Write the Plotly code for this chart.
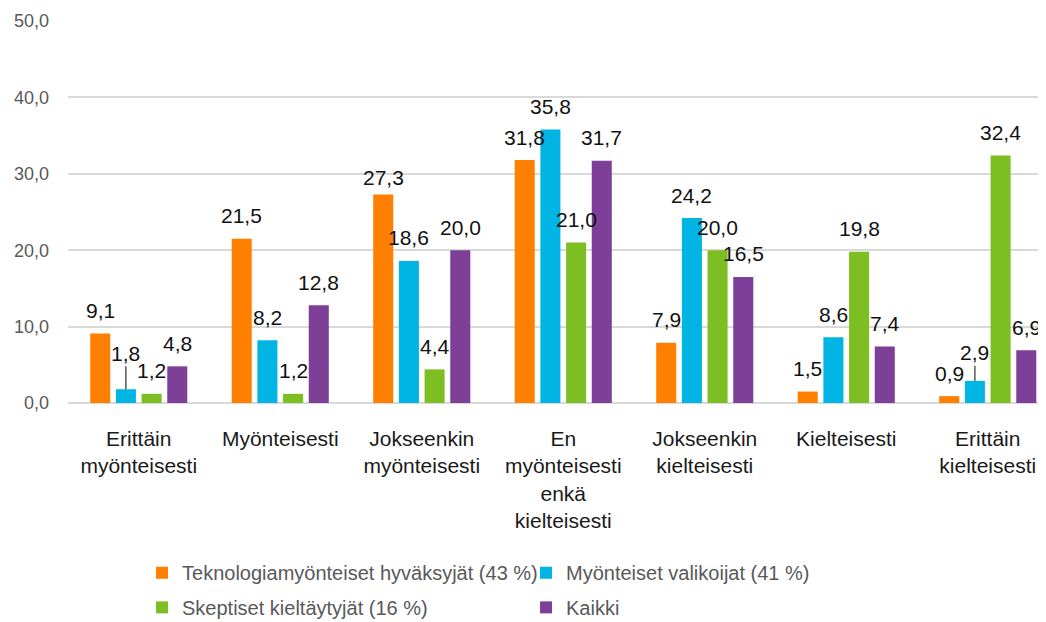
import plotly.graph_objects as go

categories = [
    "Erittäin<br>myönteisesti",
    "Myönteisesti",
    "Jokseenkin<br>myönteisesti",
    "En<br>myönteisesti<br>enkä<br>kielteisesti",
    "Jokseenkin<br>kielteisesti",
    "Kielteisesti",
    "Erittäin<br>kielteisesti",
]
series_names = [
    "Teknologiamyönteiset hyväksyjät (43 %)",
    "Myönteiset valikoijat (41 %)",
    "Skeptiset kieltäytyjät (16 %)",
    "Kaikki",
]
tekno = [9.1, 21.5, 27.3, 31.8, 7.9, 1.5, 0.9]
valikoijat = [1.8, 8.2, 18.6, 35.8, 24.2, 8.6, 2.9]
skeptiset = [1.2, 1.2, 4.4, 21.0, 20.0, 19.8, 32.4]
kaikki = [4.8, 12.8, 20.0, 31.7, 16.5, 7.4, 6.9]
y_ticks = [0, 10, 20, 30, 40, 50]

series_values = [tekno, valikoijat, skeptiset, kaikki]
colors = ["#FF8000", "#00B4E4", "#7DBE22", "#7E3F98"]
legend_rows = ["legend", "legend", "legend2", "legend2"]

BARGAP = 0.274
BARGROUPGAP = 0.22
FONT = "Liberation Sans"

# label style tweaks: (series, category) -> leader line length in px
leaders = {(1, 0): 36, (1, 6): 28}
lift_override = {(0, 2): 17}
DEFAULT_LIFT = 23

x_idx = list(range(len(categories)))

fig = go.Figure()
for s, (name, vals, col) in enumerate(zip(series_names, series_values, colors)):
    fig.add_trace(go.Bar(
        x=x_idx, y=vals, name=name, marker=dict(color=col, line=dict(width=0)),
        hoverinfo="y", legend=legend_rows[s],
    ))

n = len(series_values)
slot = (1 - BARGAP) / n
annotations = []
for s, vals in enumerate(series_values):
    off = -(1 - BARGAP) / 2 + slot * (s + 0.5)
    for i, v in enumerate(vals):
        txt = f"{v:.1f}".replace(".", ",")
        if (s, i) in leaders:
            annotations.append(dict(
                x=i + off, y=v, xref="x", yref="y", text=txt,
                showarrow=True, ax=0, ay=-leaders[(s, i)], arrowhead=0,
                arrowwidth=1, arrowcolor="#000000", standoff=0,
                font=dict(family=FONT, size=21, color="#111111"),
            ))
        else:
            annotations.append(dict(
                x=i + off, y=v, xref="x", yref="y", text=txt,
                showarrow=False, yanchor="middle",
                yshift=lift_override.get((s, i), DEFAULT_LIFT),
                font=dict(family=FONT, size=21, color="#111111"),
            ))

# page adds an 8px body margin around the figure
W, H = 1038, 614
ml, mt, mb = 60, 13, 219
cat_px = 141.5
right_units = (W - ml) / cat_px - 0.5

legend_common = dict(
    orientation="h", x=0.0757, xanchor="left", yanchor="top",
    entrywidth=339, entrywidthmode="pixels",
    font=dict(family=FONT, size=20, color="#595959"),
    traceorder="normal", itemclick=False, bgcolor="rgba(0,0,0,0)",
)

fig.update_layout(
    width=W, height=H,
    margin=dict(l=ml, r=0, t=mt, b=mb, pad=0, autoexpand=False),
    paper_bgcolor="white", plot_bgcolor="white",
    barmode="group", bargap=BARGAP, bargroupgap=BARGROUPGAP,
    separators=", ",
    font=dict(family=FONT, color="#111111"),
    annotations=annotations,
    showlegend=True,
    legend=dict(legend_common, y=-0.393),
    legend2=dict(legend_common, y=-0.484),
    xaxis=dict(
        range=[-0.5, right_units], tickmode="array", tickvals=x_idx,
        ticktext=categories, showgrid=False, zeroline=False, showline=False,
        ticks="", tickfont=dict(family=FONT, size=21, color="#1a1a1a"),
        ticklabelstandoff=21, fixedrange=True, automargin=False,
    ),
    yaxis=dict(
        range=[0, 50], tickmode="array", tickvals=y_ticks, tickformat=".1f",
        showgrid=True, gridcolor="#D9D9D9", gridwidth=1.5,
        zeroline=True, zerolinecolor="#D9D9D9", zerolinewidth=1.5,
        showline=False, ticks="",
        tickfont=dict(family=FONT, size=18, color="#595959"),
        ticklabelstandoff=18, fixedrange=True, automargin=False,
    ),
)

fig.write_html("out.html")
